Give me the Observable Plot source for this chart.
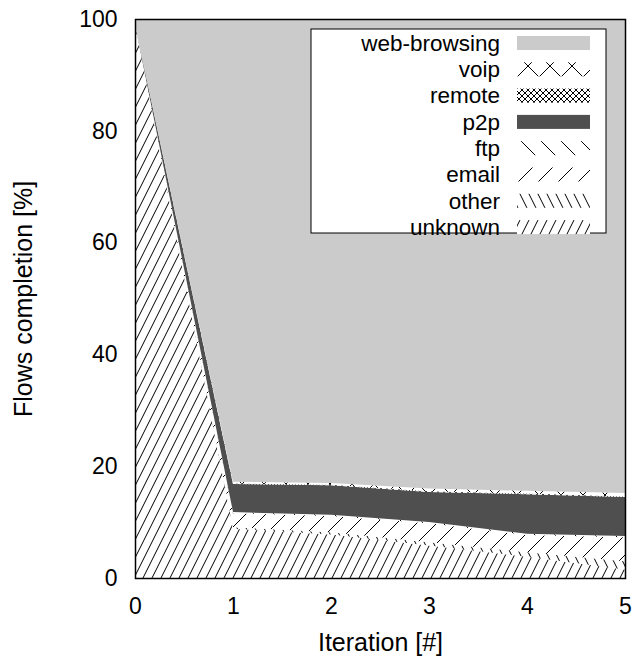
<!DOCTYPE html>
<html><head><meta charset="utf-8">
<script src="https://cdn.jsdelivr.net/npm/d3@7"></script>
<script src="https://cdn.jsdelivr.net/npm/@observablehq/plot@0.6"></script>
<style>body{margin:0;background:#fff;}</style>
</head><body><div id="chart"></div>
<script>
// ---- data (percent of flows per protocol class, per iteration) ----
const iterations = [0, 1, 2, 3, 4, 5];
const unknown = [99, 8.8, 7.8, 5.8, 3.8, 1.5];
const other   = [0, 0.3, 0.4, 0.6, 0.8, 1.5];
const email   = [0, 2.5, 2.9, 3.4, 3.1, 4.3];
const ftp     = [0, 0.2, 0.2, 0.2, 0.2, 0.2];
const p2p     = [0, 5.0, 5.3, 5.4, 7.1, 7.0];
const remote  = [0, 0.1, 0.1, 0.1, 0.1, 0.1];
const voip    = [0, 0.3, 0.3, 0.5, 0.5, 0.6];
const webBrowsing = [1, 82.8, 83.0, 84.0, 84.4, 84.8];
const categories = ["unknown", "other", "email", "ftp", "p2p", "remote", "voip", "web-browsing"]; // bottom to top
const seriesValues = [unknown, other, email, ftp, p2p, remote, voip, webBrowsing];
const legendOrder = ["web-browsing", "voip", "remote", "p2p", "ftp", "email", "other", "unknown"];
const xTicks = [0, 1, 2, 3, 4, 5];
const yTicks = [0, 20, 40, 60, 80, 100];

const rows = [];
categories.forEach((c, i) => iterations.forEach((it, j) => rows.push({iteration: it, category: c, value: seriesValues[i][j]})));
const fills = {
  "unknown": "url(#p-unknown)", "other": "url(#p-other)", "email": "url(#p-email)", "ftp": "url(#p-ftp)",
  "p2p": "#4f4f4f", "remote": "url(#p-remote)", "voip": "url(#p-voip)", "web-browsing": "#cbcbcb"
};

const W = 637, H = 664;
const mL = 135, mR = 12, mT = 19, mB = 86;
const font = "'Liberation Sans', Arial, Helvetica, sans-serif";

const svg = Plot.plot({
  width: W, height: H,
  marginLeft: mL, marginRight: mR, marginTop: mT, marginBottom: mB,
  style: {fontFamily: font, fontSize: "24px", color: "#000", background: "#fff", overflow: "visible"},
  x: {domain: [0, 5]},
  y: {domain: [0, 100]},
  color: {domain: categories, range: categories.map(c => fills[c])},
  marks: [
    Plot.areaY(rows, Plot.stackY({x: "iteration", y: "value", fill: "category", order: categories})),
    Plot.frame({stroke: "#000", strokeWidth: 1.5}),
    Plot.axisX(xTicks, {tickSize: 0, tickPadding: 19, fontSize: 23, label: null}),
    Plot.axisY(yTicks, {tickSize: 0, tickPadding: 18, fontSize: 23, label: null}),
    Plot.axisX({tickSize: 0, ticks: [], fontSize: 25, label: "Iteration [#]", labelAnchor: "center", labelOffset: 72, labelArrow: "none"}),
    Plot.axisY({tickSize: 0, ticks: [], fontSize: 25, label: "Flows completion [%]", labelAnchor: "center", labelOffset: 121, labelArrow: "none"})
  ]
});

// pattern definitions
const defs = d3.create("svg:defs");
function pat(id, w, h, lines) {
  const p = defs.append("pattern").attr("id", id).attr("patternUnits", "userSpaceOnUse").attr("width", w).attr("height", h);
  p.append("rect").attr("width", w).attr("height", h).attr("fill", "#fff");
  lines.forEach(([x1, y1, x2, y2]) => p.append("line").attr("x1", x1).attr("y1", y1).attr("x2", x2).attr("y2", y2)
    .attr("stroke", "#000").attr("stroke-width", 1));
}
pat("p-unknown", 9, 18, [[0, 18, 9, 0], [-1, 2, 1, -2], [8, 20, 10, 16]]);
pat("p-other", 9, 18, [[0, 0, 9, 18], [-1, 16, 1, 20], [8, -2, 10, 2]]);
pat("p-email", 20, 20, [[0, 20, 20, 0]]);
pat("p-ftp", 20, 20, [[0, 0, 20, 20]]);
pat("p-remote", 6, 6, [[0, 0, 6, 6], [6, 0, 0, 6]]);
pat("p-voip", 22, 22, [[0, 0, 22, 22], [22, 0, 0, 22]]);
svg.insertBefore(defs.node(), svg.firstChild);

// legend
const g = d3.select(svg).append("g").attr("font-family", font).attr("font-size", 22.5);
g.append("rect").attr("x", 311).attr("y", 29).attr("width", 295).attr("height", 204)
  .attr("fill", "#fff").attr("stroke", "#000").attr("stroke-width", 1);
legendOrder.forEach((c, i) => {
  const cy = 43 + i * 26.3;
  g.append("text").attr("x", 500).attr("y", cy).attr("dy", "0.35em").attr("text-anchor", "end").attr("fill", "#000").text(c);
  g.append("rect").attr("x", 517).attr("y", cy - 7).attr("width", 73).attr("height", 14).attr("fill", fills[c]);
});

document.getElementById("chart").appendChild(svg);
</script>
</body></html>
